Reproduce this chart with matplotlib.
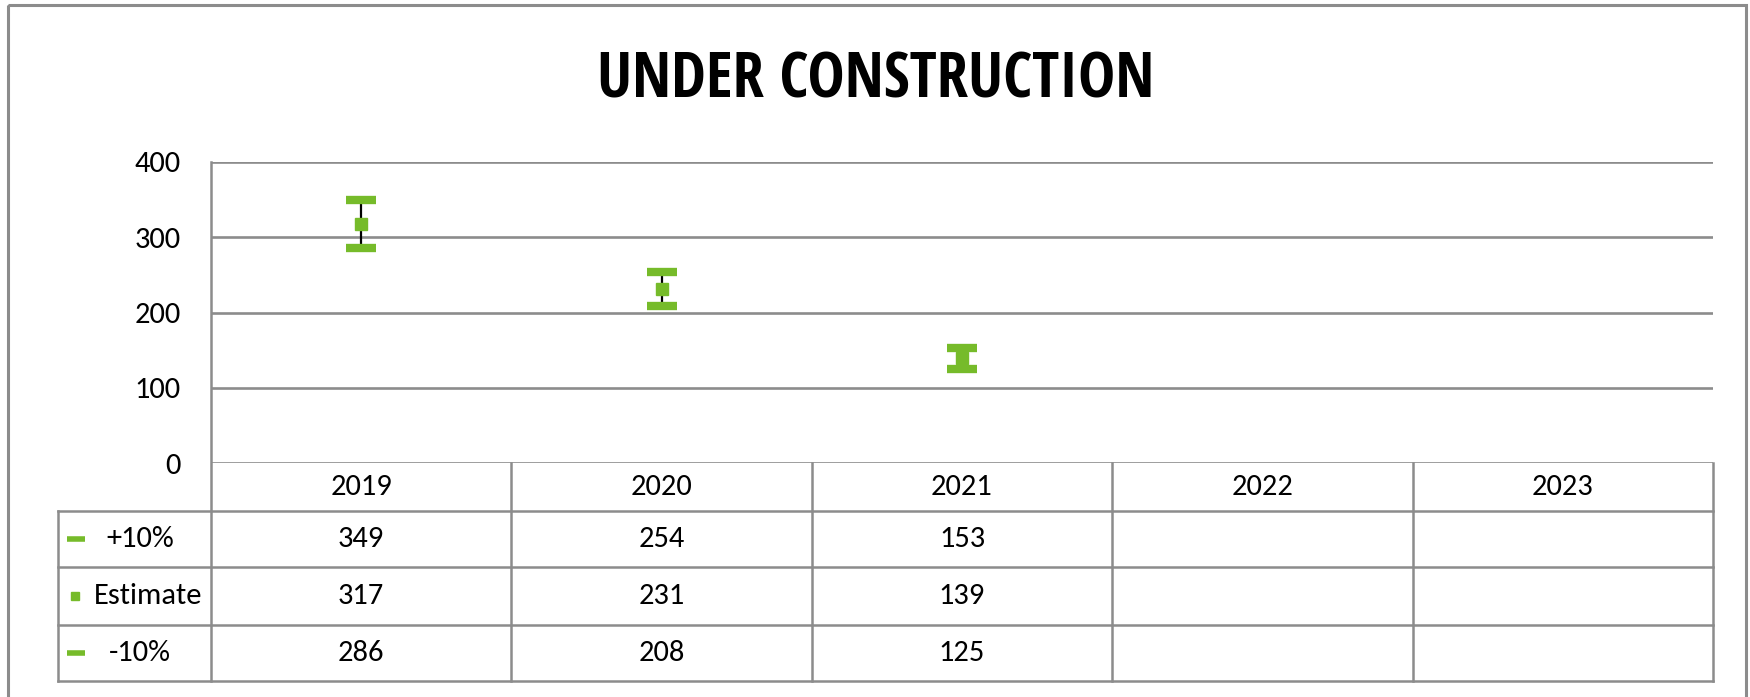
import numpy as np
import matplotlib.pyplot as plt
from matplotlib.patches import Rectangle

# data
years = ['2019', '2020', '2021', '2022', '2023']
plus10 = [349, 254, 153]
estimate = [317, 231, 139]
minus10 = [286, 208, 125]
row_names = ['+10%', 'Estimate', '-10%']

green = '#76bb2a'
grid_gray = '#8c8c8c'
plt.rcParams['font.family'] = ['Carlito', 'DejaVu Sans']
title_font = ['Open Sans Condensed', 'Carlito', 'DejaVu Sans']

W, H = 1750, 697
fig = plt.figure(figsize=(W / 100, H / 100), dpi=100)

# layout in pixels
px_left, px_right, px_top, px_zero = 211, 1713, 162, 463
tab_left = 58
row_lines = [463, 511, 567, 625, 681]
fs = 22

ax = fig.add_axes([px_left / W, 1 - px_zero / H, (px_right - px_left) / W, (px_zero - px_top) / H])
x = np.arange(len(plus10))
ax.vlines(x, minus10, plus10, color='black', lw=1.6, zorder=2)
ax.plot(x, plus10, ls='none', marker='_', ms=22, mew=6, color=green, zorder=3)
ax.plot(x, minus10, ls='none', marker='_', ms=22, mew=6, color=green, zorder=3)
ax.plot(x, estimate, ls='none', marker='s', ms=9, color=green, zorder=3)

ax.set_xlim(-0.5, len(years) - 0.5)
ax.set_ylim(0, 400)
ax.set_yticks([0, 100, 200, 300, 400])
ax.yaxis.grid(True, color=grid_gray, lw=1.9)
ax.set_axisbelow(True)
ax.set_xticks([])
ax.tick_params(axis='y', length=0, pad=22, labelsize=fs)
for s in ['top', 'right', 'bottom', 'left']:
    ax.spines[s].set_visible(False)

# overlay in pixel coords for the data table and frame
ov = fig.add_axes([0, 0, 1, 1], facecolor='none')
ov.set_xlim(0, W)
ov.set_ylim(H, 0)
ov.axis('off')

col_w = (px_right - px_left) / len(years)
lw_t = 1.8
# left spine running into the table
ov.plot([px_left, px_left], [px_top, row_lines[-1]], color=grid_gray, lw=lw_t)
# vertical column lines
for i in range(1, len(years) + 1):
    xc = px_left + i * col_w
    ov.plot([xc, xc], [row_lines[0], row_lines[-1]], color=grid_gray, lw=lw_t)
ov.plot([tab_left, tab_left], [row_lines[1], row_lines[-1]], color=grid_gray, lw=lw_t)
for yl in row_lines[1:]:
    ov.plot([tab_left, px_right], [yl, yl], color=grid_gray, lw=lw_t)

# header
for i, yr in enumerate(years):
    ov.text(px_left + (i + 0.5) * col_w, (row_lines[0] + row_lines[1]) / 2, yr,
            ha='center', va='center', fontsize=fs)

# rows
series = [plus10, estimate, minus10]
for r, (name, vals) in enumerate(zip(row_names, series)):
    yc = (row_lines[r + 1] + row_lines[r + 2]) / 2
    for i, v in enumerate(vals):
        ov.text(px_left + (i + 0.5) * col_w, yc, str(v), ha='center', va='center', fontsize=fs)
    if name == 'Estimate':
        ov.plot([75], [yc], marker='s', ms=6, color=green, ls='none')
        ov.text(148, yc, name, ha='center', va='center', fontsize=fs)
    else:
        ov.plot([67, 85], [yc, yc], color=green, lw=4, solid_capstyle='butt')
        ov.text(140, yc, name, ha='center', va='center', fontsize=fs)

# title
ov.text(876, 81, 'UNDER CONSTRUCTION', ha='center', va='center', fontsize=45,
        fontweight='bold', family=title_font)

# outer frame
ov.add_patch(Rectangle((8, 5), 1738, 720, fill=False, edgecolor=grid_gray, lw=2.2, clip_on=False))

fig.savefig('out.png', dpi=100)
